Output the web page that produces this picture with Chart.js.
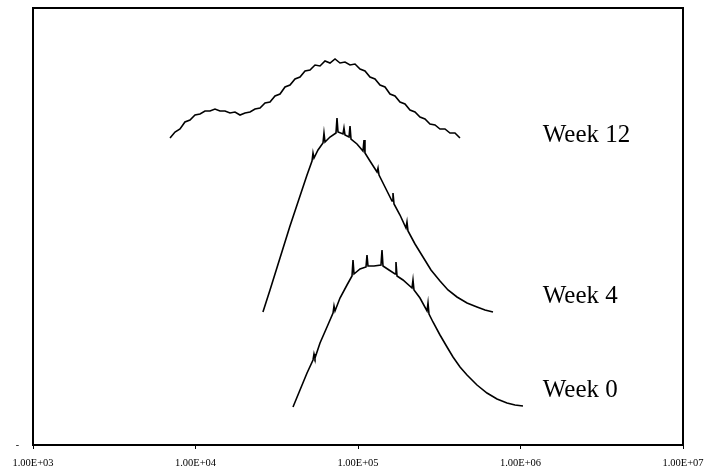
<!DOCTYPE html>
<html>
<head>
<meta charset="utf-8">
<script src="https://cdn.jsdelivr.net/npm/chart.js@4.4.1/dist/chart.umd.min.js"></script>
<style>
  body { margin: 0; background: #fff; }
  canvas { display: block; }
</style>
</head>
<body>
<canvas id="gpcChart" width="708" height="472"></canvas>
<script>
const xTickValues = [1e3, 1e4, 1e5, 1e6, 1e7];
const xTickLabels = ['1.00E+03', '1.00E+04', '1.00E+05', '1.00E+06', '1.00E+07'];
const seriesNames = ['Week 12', 'Week 4', 'Week 0'];

// molecular weight (x) and detector response (y)
const week12MW = [6970, 7480, 8030, 8610, 9250, 9930, 10660, 11440, 12280, 13180, 14150, 15190, 16300, 17500,
    18790, 20170, 21650, 23240, 24950, 26780, 28740, 30850, 33120, 35550, 38160, 40960, 43970, 47200, 50660,
    54380, 58370, 62660, 67260, 72200, 77500, 83190, 89290, 95840, 102900, 110400, 118500, 127200, 136600,
    146600, 157400, 168900, 181300, 194600, 208900, 224200, 240700, 258300, 277300, 297700, 319500, 342900,
    368100, 395100, 424100];
const week12Signal = [307, 313, 316, 323, 325, 330, 331, 334, 334, 336, 334, 334, 332, 333,
    330, 332, 333, 336, 337, 342, 343, 349, 351, 358, 360, 366, 368, 374, 375,
    380, 379, 384, 382, 386, 382, 383, 380, 381, 376, 374, 368, 366, 360,
    358, 351, 349, 343, 341, 335, 333, 328, 326, 321, 320, 316, 316, 312,
    312, 307];

const week4MW = [26000, 28740, 33110, 38150, 42130, 45230, 48560, 52120, 52860, 53610, 56740, 60890, 61760,
    62650, 67250, 73210, 74260, 75320, 80840, 81990, 83180, 88050, 89300, 90570, 98580, 107300, 108900,
    110400, 118500, 130900, 132800, 134700, 146600, 161900, 164200, 166600, 181300, 197400, 200200, 203100,
    224300, 251200, 281300, 319600, 357900, 406600, 468700, 539900, 604600, 677200];
const week4Signal = [133, 155, 187, 219, 240, 255, 270, 284, 292, 287, 295, 302, 312,
    303, 308, 312, 327, 313, 311, 317, 310, 308, 319, 306, 301, 294, 305,
    292, 284, 273, 277, 270, 258, 244, 252, 241, 230, 217, 223, 214,
    201, 188, 175, 164, 155, 148, 142, 138, 135, 133];

const week0MW = [39810, 43960, 48560, 52860, 53610, 54360, 58370, 64450, 70190, 71180, 72200, 77480, 85560,
    91860, 93170, 94500, 102900, 112000, 113600, 115200, 125400, 138500, 140500, 142500, 155200, 169000,
    171300, 173800, 189200, 214900, 218000, 221100, 240700, 265900, 269700, 273500, 289300, 319600, 353000,
    384300, 424400, 468700, 539900, 622000, 716900, 826000, 925100, 1036000];
const week0Signal = [38, 55, 72, 85, 91, 87, 102, 118, 132, 139, 134, 147, 160,
    169, 185, 171, 176, 178, 190, 179, 179, 180, 195, 179, 175, 171,
    183, 169, 165, 157, 165, 155, 147, 134, 142, 131, 123, 110, 98,
    88, 78, 70, 60, 52, 46, 42, 40, 39];

const toPoints = (xs, ys) => xs.map((x, i) => ({ x: x, y: ys[i] }));

const serif = '"Liberation Serif", "Times New Roman", serif';

const framePlugin = {
    id: 'frame',
    afterDraw(chart) {
        const { ctx, chartArea: a, scales } = chart;
        ctx.save();
        ctx.strokeStyle = '#000';
        ctx.lineWidth = 2;
        ctx.strokeRect(a.left, a.top, a.right - a.left, a.bottom - a.top);

        // series names next to the curve tails
        ctx.fillStyle = '#000';
        ctx.font = '25px ' + serif;
        ctx.textBaseline = 'alphabetic';
        const anchors = [[1.37e6, 303], [1.37e6, 142], [1.37e6, 48]];
        seriesNames.forEach((name, i) => {
            const px = scales.x.getPixelForValue(anchors[i][0]);
            const py = scales.y.getPixelForValue(anchors[i][1]);
            ctx.fillText(name, px, py);
        });
        ctx.restore();
    }
};

const lineStyle = {
    borderColor: '#000',
    borderWidth: 1.6,
    pointRadius: 0,
    tension: 0,
    fill: false
};

new Chart(document.getElementById('gpcChart').getContext('2d'), {
    type: 'line',
    data: {
        datasets: [
            { label: seriesNames[0], data: toPoints(week12MW, week12Signal), ...lineStyle },
            { label: seriesNames[1], data: toPoints(week4MW, week4Signal), ...lineStyle },
            { label: seriesNames[2], data: toPoints(week0MW, week0Signal), ...lineStyle }
        ]
    },
    options: {
        responsive: false,
        animation: false,
        layout: { padding: { left: 0, right: 25, top: 8, bottom: 0 } },
        plugins: {
            legend: { display: false },
            tooltip: { enabled: false }
        },
        scales: {
            x: {
                type: 'logarithmic',
                min: 1e3,
                max: 1e7,
                afterBuildTicks: s => { s.ticks = xTickValues.map(v => ({ value: v })); },
                afterFit: s => {
                    s.height = 27;
                    s.paddingLeft = 0;
                    s.paddingRight = 0;
                },
                border: { display: false },
                grid: { drawOnChartArea: false, tickLength: 4, color: '#000', lineWidth: 1 },
                ticks: {
                    autoSkip: false,
                    maxRotation: 0,
                    padding: 8,
                    color: '#000',
                    font: { family: serif, size: 10.5 },
                    callback: (v, i) => xTickLabels[i]
                }
            },
            y: {
                min: 0,
                max: 437,
                afterBuildTicks: s => { s.ticks = [{ value: 0 }]; },
                afterFit: s => {
                    s.width = 33;
                    s.paddingTop = 0;
                    s.paddingBottom = 0;
                },
                border: { display: false },
                grid: { display: false },
                ticks: {
                    padding: 6,
                    color: '#000',
                    font: { family: serif, size: 10 },
                    callback: () => '-'
                }
            }
        }
    },
    plugins: [framePlugin]
});
</script>
</body>
</html>
